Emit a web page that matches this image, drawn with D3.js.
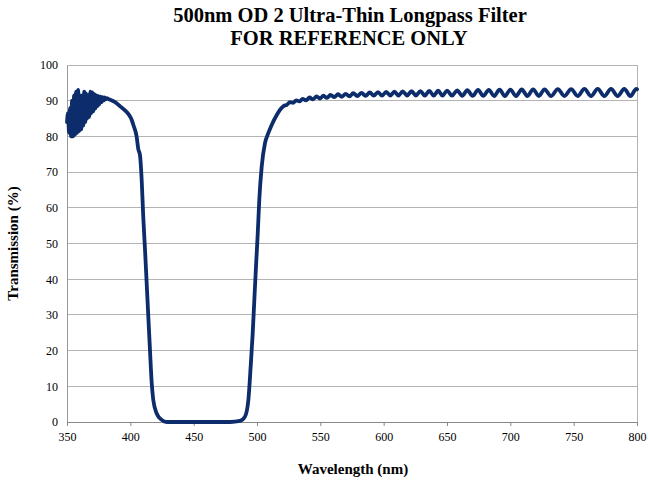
<!DOCTYPE html>
<html>
<head>
<meta charset="utf-8">
<script src="https://cdn.jsdelivr.net/npm/d3@7"></script>
<style>
  html, body { margin: 0; padding: 0; background: #fff; }
  svg { display: block; }
  text { font-family: "Liberation Serif", "Times New Roman", serif; fill: #000; }
</style>
</head>
<body>
<svg id="chart" width="649" height="480"></svg>
<script>
// ---- Data ----
const titleLines = ["500nm OD 2 Ultra-Thin Longpass Filter", "FOR REFERENCE ONLY"];
const xLabel = "Wavelength (nm)";
const yLabel = "Transmission (%)";
const xTicks = [350, 400, 450, 500, 550, 600, 650, 700, 750, 800];
const yTicks = [0, 10, 20, 30, 40, 50, 60, 70, 80, 90, 100];

// Wavelength (nm)
const wavelength = [
  350.0, 350.8, 351.6, 352.4, 353.2, 354.0, 354.8, 355.6, 356.4, 357.2,
  358.0, 358.8, 359.6, 360.4, 361.2, 362.0, 362.8, 363.6, 364.4, 365.2,
  366.0, 366.8, 367.6, 368.4, 369.2, 370.0, 370.8, 371.6, 372.4, 373.2,
  374.0, 374.8, 375.6, 376.4, 377.2, 378.0, 378.8, 379.6, 380.4, 381.5,
  382.5, 384.0, 388.0, 392.0, 396.0, 399.0, 401.1,
  402.4, 405.0, 406.3, 407.6, 409.0, 410.2, 411.6, 412.9, 414.2, 415.5,
  416.9, 418.1, 420.8, 424.8, 428.7, 440.0, 460.0, 478.7, 486.6, 490.5,
  493.2, 495.0, 496.6, 497.9, 499.2, 500.6, 501.8, 503.7, 506.3, 508.9,
  511.6, 515.6, 518.5, 521.0, 523.5, 526.0, 528.5, 531.0, 533.5, 536.0,
  538.7, 541.5, 544.2, 547.0, 549.7, 552.5, 555.2, 558.0, 561.0, 564.0,
  567.0, 570.0, 573.0, 576.0, 579.2, 582.5, 585.7, 589.0, 592.2, 595.5,
  598.7, 602.0, 605.2, 608.5, 611.7, 615.0, 618.5, 622.0, 625.5, 629.0,
  632.5, 636.0, 639.5, 643.0, 646.5, 650.0, 654.0, 658.0, 662.0, 666.0,
  670.2, 674.5, 678.7, 683.0, 687.2, 691.5, 695.7, 700.0, 704.5, 709.0,
  713.5, 718.0, 722.5, 727.0, 732.2, 737.5, 742.7, 748.0, 753.2, 758.5,
  763.7, 769.0, 774.2, 779.5, 784.7, 790.0, 794.8, 799.5, 800.0
];

// Transmission (%)
const transmission = [
  84.0, 86.5, 81.0, 88.0, 80.0, 90.0, 80.0, 91.5, 80.5, 92.5,
  81.0, 93.0, 81.5, 91.5, 82.0, 91.5, 83.0, 92.5, 84.0, 92.0,
  85.0, 91.5, 85.5, 92.5, 86.5, 92.3, 87.0, 91.8, 87.8, 91.5,
  88.5, 91.3, 89.0, 91.1, 89.6, 91.0, 90.0, 90.9, 90.4, 90.7,
  90.5, 90.3, 89.6, 88.4, 87.2, 86.0, 84.6,
  83.2, 79.9, 76.4, 74.8, 67.5, 57.5, 48.2, 38.9, 29.5, 20.2,
  10.8, 6.2, 2.4, 0.6, 0.0, 0.0, 0.0, 0.0, 0.3, 1.5,
  6.2, 15.5, 24.8, 34.2, 43.5, 52.9, 62.2, 71.5, 78.1, 80.9,
  83.2, 86.0, 87.6, 88.5, 88.8, 89.6, 89.4, 90.1, 89.8, 90.5,
  90.1, 90.9, 90.4, 91.2, 90.6, 91.4, 90.8, 91.6, 91.0, 91.8,
  91.1, 91.9, 91.2, 92.1, 91.3, 92.2, 91.35, 92.3, 91.4, 92.4,
  91.4, 92.5, 91.45, 92.55, 91.45, 92.6, 91.45, 92.65, 91.45, 92.7,
  91.4, 92.75, 91.4, 92.8, 91.4, 92.85, 91.4, 92.9, 91.35, 92.95,
  91.35, 93.0, 91.35, 93.05, 91.3, 93.1, 91.3, 93.1, 91.3, 93.15,
  91.3, 93.2, 91.3, 93.2, 91.3, 93.25, 91.3, 93.25, 91.3, 93.3,
  91.3, 93.3, 91.3, 93.3, 91.3, 93.3, 91.3, 93.3, 93.2
];

// ---- Chart ----
const W = 649, H = 480;
const margin = { left: 67, right: 12, top: 65, bottom: 58 };
const svg = d3.select("#chart");

const x = d3.scaleLinear().domain([350, 800]).range([margin.left, W - margin.right]);
const y = d3.scaleLinear().domain([0, 100]).range([H - margin.bottom, margin.top]);

const gridColor = "#b3b3b3";

// gridlines
svg.append("g")
  .selectAll("line")
  .data(yTicks.filter(d => d > 0))
  .join("line")
  .attr("x1", x(350)).attr("x2", x(800))
  .attr("y1", d => y(d)).attr("y2", d => y(d))
  .attr("stroke", gridColor).attr("stroke-width", 1)
  .attr("shape-rendering", "crispEdges");

// right border
svg.append("line")
  .attr("x1", x(800)).attr("x2", x(800))
  .attr("y1", y(100)).attr("y2", y(0))
  .attr("stroke", gridColor).attr("stroke-width", 1)
  .attr("shape-rendering", "crispEdges");

// y axis
const yAxis = svg.append("g")
  .attr("transform", `translate(${x(350)},0)`)
  .call(d3.axisLeft(y).tickValues(yTicks).tickSize(0).tickPadding(9));
yAxis.select(".domain").attr("stroke", "#999").attr("shape-rendering", "crispEdges");
yAxis.selectAll("text")
  .style("font-family", '"Liberation Serif", serif')
  .style("font-size", "12px").attr("fill", "#000");

// x axis
const xAxis = svg.append("g")
  .attr("transform", `translate(0,${y(0)})`)
  .call(d3.axisBottom(x).tickValues(xTicks).tickSizeOuter(0).tickSize(4).tickPadding(6));
xAxis.select(".domain").attr("stroke", "#888").attr("shape-rendering", "crispEdges");
xAxis.selectAll(".tick line").attr("stroke", "#888");
xAxis.selectAll("text")
  .style("font-family", '"Liberation Serif", serif')
  .style("font-size", "12px").attr("fill", "#000");

// data line
const pts = wavelength.map((w, i) => [w, transmission[i]]);
const line = d3.line()
  .x(d => x(d[0]))
  .y(d => y(d[1]))
  .curve(d3.curveMonotoneX);

svg.append("path")
  .datum(pts)
  .attr("d", line)
  .attr("fill", "none")
  .attr("stroke", "#0d2c6b")
  .attr("stroke-width", 3.8)
  .attr("stroke-linejoin", "round")
  .attr("stroke-linecap", "round");

// titles
svg.append("text")
  .attr("x", 350).attr("y", 22)
  .attr("text-anchor", "middle")
  .style("font-size", "20.5px").style("font-weight", "bold")
  .text(titleLines[0]);
svg.append("text")
  .attr("x", 349).attr("y", 45)
  .attr("text-anchor", "middle")
  .style("font-size", "20.5px").style("font-weight", "bold")
  .text(titleLines[1]);

// axis titles
svg.append("text")
  .attr("x", 353).attr("y", 474)
  .attr("text-anchor", "middle")
  .style("font-size", "15px").style("font-weight", "bold")
  .text(xLabel);
svg.append("text")
  .attr("transform", `translate(18,${(y(0) + y(100)) / 2}) rotate(-90)`)
  .attr("text-anchor", "middle")
  .style("font-size", "15px").style("font-weight", "bold")
  .text(yLabel);
</script>
</body>
</html>
